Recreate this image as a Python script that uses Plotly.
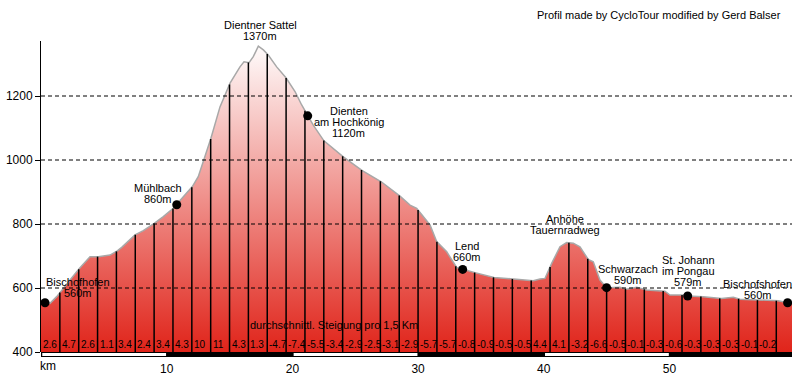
import plotly.graph_objects as go
import numpy as np

# ---------------- data ----------------
dist_km = [0.0, 0.72, 1.25, 1.54, 2.31, 3.05, 3.9, 4.56, 5.49, 6.07, 6.42, 7.48, 8.14, 9.01, 9.73,
           10.52, 11.32, 12.04, 12.51, 12.91, 13.52, 14.24, 15.04, 15.83, 16.15, 16.55, 16.89, 17.29,
           17.69, 18.08, 18.75, 19.49, 20.21, 20.74, 21.22, 21.66, 22.51, 24.05, 25.56, 27.07, 28.56,
           29.36, 29.89, 30.95, 31.48, 32.28, 33.07, 33.55, 34.53, 36.04, 37.57, 38.37, 39.16, 39.7,
           40.1, 40.63, 41.29, 41.82, 42.35, 42.88, 43.54, 43.94, 44.47, 45.0, 46.06, 46.6, 47.39,
           48.19, 49.64, 50.04, 51.1, 51.45, 52.69, 54.15, 55.08, 55.61, 57.06, 58.65, 59.43, 59.75]
elev_m = [562, 552, 573, 588, 625, 661, 698, 698, 703, 716, 727, 766, 779, 802, 823,
          849, 885, 917, 948, 995, 1068, 1166, 1240, 1291, 1307, 1304, 1323, 1356,
          1344, 1328, 1291, 1257, 1214, 1172, 1138, 1109, 1060, 1010, 967, 932, 887,
          859, 849, 797, 745, 713, 664, 658, 648, 633, 628, 625, 623, 628,
          630, 677, 729, 742, 740, 729, 689, 682, 625, 601, 602, 596, 602,
          594, 590, 578, 578, 575, 573, 567, 571, 565, 562, 560, 554, 556]

segment_km = 1.5
gradient_labels = ["2.6", "4.7", "2.6", "1.1", "3.4", "2.4", "3.4", "4.3", "10", "11", "4.3", "1.3",
                   "-4.7", "-7.4", "-5.5", "-3.4", "-2.9", "-2.5", "-3.1", "-2.9", "-5.7", "-5.7",
                   "-0.8", "-0.9", "-0.5", "-0.5", "4.4", "4.1", "-3.2", "-6.6", "-0.5", "-0.1",
                   "-0.3", "-0.6", "-0.3", "-0.3", "-0.3", "-0.1", "-0.2"]

place_lines = [["Bischofhofen", "560m"], ["Mühlbach", "860m"], ["Dientner Sattel", "1370m"],
               ["Dienten", "am Hochkönig", "1120m"], ["Lend", "660m"], ["Anhöhe", "Tauernradweg"],
               ["Schwarzach", "590m"], ["St. Johann", "im Pongau", "579m"], ["Bischofshofen", "560m"]]
place_km = [0.32, 10.8, 17.29, 21.22, 33.55, 41.82, 45.0, 51.45, 59.4]
place_elev = [554, 860, 1356, 1138, 658, 742, 601, 575, 554]
place_has_dot = [True, True, False, True, True, False, True, True, True]

y_ticks = [400, 600, 800, 1000, 1200]
x_ticks = [10, 20, 30, 40, 50]
x_tick_text = ["10", "20", "30", "40", "50"]
bar_km = [0, 10, 20, 30, 40, 50]

# ---------------- layout constants ----------------
W, H = 796, 376
ML, MR, MT, MB = 41, 4, 41, 24
X_MAX = 59.75
Y_MIN, Y_MAX = 400, 1371.9
plot_h = H - MT - MB
label_offsets = [(33, 20.7), (-19, 16.4), (2, 21), (41, 5), (4.3, 23.6), (-2, 23.7),
                 (21, 18.7), (0.5, 36), (-30, 18.7)]
FONT = "Liberation Sans, Arial, sans-serif"

fig = go.Figure()

# filled elevation profile
fig.add_trace(go.Scatter(
    x=dist_km, y=elev_m, mode="lines", fill="tozeroy",
    line=dict(color="#a8a8a8", width=1.5),
    fillgradient=dict(type="vertical", start=Y_MIN, stop=1372,
                      colorscale=[[0, "rgb(224,36,26)"], [1, "rgb(255,255,255)"]]),
    hoverinfo="skip", showlegend=False))

# vertical segment markers every 1.5 km
marks = [segment_km * (i + 1) for i in range(len(gradient_labels))]
tops = np.interp(marks, dist_km, elev_m)
vx, vy = [], []
for m, t in zip(marks, tops):
    vx += [m, m, None]
    vy += [Y_MIN, float(t), None]
fig.add_trace(go.Scatter(x=vx, y=vy, mode="lines", line=dict(color="black", width=1.5),
                         hoverinfo="skip", showlegend=False))

# place dots
dx_ = [k for k, d in zip(place_km, place_has_dot) if d]
dy_ = [e for e, d in zip(place_elev, place_has_dot) if d]
fig.add_trace(go.Scatter(x=dx_, y=dy_, mode="markers",
                         marker=dict(color="black", size=9),
                         hoverinfo="skip", showlegend=False))

shapes = []
# dashed grid lines drawn above the fill
for v in y_ticks[1:]:
    shapes.append(dict(type="line", xref="x", yref="y", x0=0, x1=X_MAX, y0=v, y1=v,
                       line=dict(color="black", width=1, dash="4px,3px"), layer="above"))
# km bar
bar_h = 5 / plot_h
shapes.append(dict(type="rect", xref="x", yref="paper", x0=0, x1=X_MAX, y0=-bar_h, y1=0,
                   fillcolor="black", line=dict(width=0), layer="above"))
for i, b in enumerate(bar_km):
    if i % 2 == 0:
        shapes.append(dict(type="rect", xref="x", yref="paper", x0=b + 0.1, x1=b + 9.95,
                           y0=-4 / plot_h, y1=-1 / plot_h,
                           fillcolor="white", line=dict(width=0), layer="above"))

annotations = []
# gradient labels
for i, g in enumerate(gradient_labels):
    annotations.append(dict(x=segment_km * i, y=Y_MIN, xref="x", yref="y", text=g,
                            showarrow=False, xanchor="left", yanchor="middle",
                            xshift=0, yshift=8, font=dict(family=FONT, size=10, color="black")))
# place labels
for lines, km, el, (ox, oy) in zip(place_lines, place_km, place_elev, label_offsets):
    for j, ln in enumerate(lines):
        annotations.append(dict(x=km, y=el, xref="x", yref="y", text=ln, showarrow=False,
                                xanchor="center", yanchor="middle",
                                xshift=ox, yshift=oy - 11 * j,
                                font=dict(family=FONT, size=11, color="black")))
annotations.append(dict(x=23.31, y=484, xref="x", yref="y",
                        text="durchschnittl. Steigung pro 1,5 Km", showarrow=False,
                        xanchor="center", yanchor="middle",
                        font=dict(family=FONT, size=11, color="black")))
annotations.append(dict(x=(659 - ML) / (W - ML - MR), y=(H - MB - 15) / plot_h,
                        xref="paper", yref="paper",
                        text="Profil made by CycloTour modified by Gerd Balser", showarrow=False,
                        xanchor="center", yanchor="middle",
                        font=dict(family=FONT, size=11, color="black")))
annotations.append(dict(x=0, y=-14 / plot_h, xref="x", yref="paper", text="km",
                        showarrow=False, xanchor="left", yanchor="middle", xshift=-3,
                        font=dict(family=FONT, size=12, color="black")))

fig.update_layout(
    width=W, height=H, margin=dict(l=ML, r=MR, t=MT, b=MB, pad=0, autoexpand=False),
    paper_bgcolor="white", plot_bgcolor="white",
    shapes=shapes, annotations=annotations, showlegend=False,
    xaxis=dict(range=[0, X_MAX], showgrid=False, zeroline=False, showline=False,
               automargin=False,
               tickvals=x_ticks, ticktext=x_tick_text, ticks="", ticklabelstandoff=8,
               tickfont=dict(family=FONT, size=12, color="black"), fixedrange=True),
    yaxis=dict(range=[Y_MIN, Y_MAX], showgrid=False, zeroline=False, showline=True,
               automargin=False,
               linecolor="black", linewidth=1, ticks="outside", ticklen=5, tickcolor="black",
               tickvals=y_ticks, tickfont=dict(family=FONT, size=12, color="black"),
               fixedrange=True),
)

fig.write_html("out.html")
